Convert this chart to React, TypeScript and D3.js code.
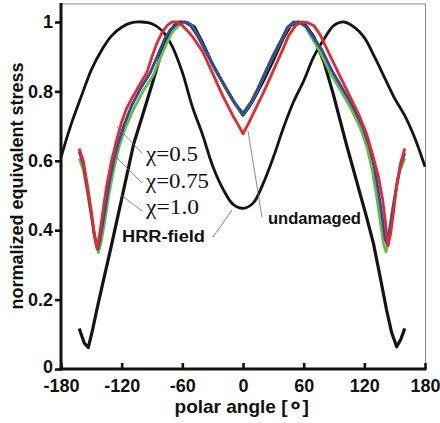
import React, { useRef, useEffect } from "react";
import * as d3 from "d3";

// polar angle [deg] / normalized equivalent stress
const hrrAngles = [-180, -170, -160, -150, -140, -130, -120, -110, -100, -90, -80, -70, -60, -50, -40, -30, -20, -10, 0,
  10, 20, 30, 40, 50, 60, 70, 80, 90, 100, 110, 120, 130, 140, 150, 160, 170, 180];
const hrrValues = [0.61, 0.705, 0.785, 0.862, 0.918, 0.96, 0.985, 0.998, 1.0, 0.995, 0.975, 0.93, 0.855, 0.755, 0.675, 0.585, 0.52, 0.475, 0.463,
  0.478, 0.535, 0.61, 0.695, 0.77, 0.83, 0.9, 0.95, 0.99, 1.0, 0.985, 0.955, 0.9, 0.84, 0.78, 0.73, 0.665, 0.583];

const undamaged: [number, number][] = [
  [-162, 0.117], [-157, 0.075], [-153, 0.062], [-149, 0.11], [-145, 0.165], [-140, 0.23], [-131, 0.345],
  [-120, 0.49], [-108, 0.65], [-100, 0.725], [-90, 0.82], [-82, 0.9], [-75, 0.955], [-68, 0.99], [-62, 1.0],
  [-55, 0.998], [-48, 0.985], [-40, 0.94], [-30, 0.877], [-20, 0.825], [-10, 0.775], [-5, 0.753], [0, 0.732],
  [5, 0.752], [10, 0.775], [20, 0.83], [30, 0.89], [40, 0.955], [47, 0.99], [55, 1.0], [62, 0.99], [70, 0.958],
  [80, 0.885], [89, 0.795], [102, 0.65], [112, 0.545], [122, 0.44], [129, 0.362], [136, 0.26], [142, 0.17],
  [147, 0.105], [152, 0.064], [156, 0.085], [160, 0.117],
];

const chi05: [number, number][] = [
  [-162, 0.636], [-158, 0.6], [-154, 0.53], [-150, 0.455], [-147, 0.39], [-144.5, 0.348], [-142, 0.385],
  [-139, 0.445], [-135, 0.525], [-130, 0.6], [-125, 0.66], [-120, 0.712], [-115, 0.752], [-110, 0.78],
  [-100, 0.83], [-95, 0.855], [-90, 0.9], [-85, 0.94], [-80, 0.97], [-75, 0.99], [-70, 1.0], [-65, 1.0],
  [-60, 0.99], [-55, 0.975], [-50, 0.958], [-40, 0.915], [-30, 0.852], [-20, 0.787], [-10, 0.73], [-5, 0.705],
  [0, 0.678], [5, 0.705], [10, 0.735], [20, 0.795], [30, 0.86], [40, 0.925], [45, 0.96], [52, 0.99], [58, 1.0],
  [64, 0.998], [70, 0.99], [76, 0.965], [85, 0.91], [96, 0.843], [105, 0.79], [115, 0.73], [122, 0.68],
  [128, 0.62], [134, 0.554], [138, 0.49], [141, 0.42], [143.5, 0.355], [146, 0.39], [149, 0.455], [152, 0.53],
  [156, 0.595], [160, 0.636],
];

const chi075: [number, number][] = [
  [-162, 0.627], [-158, 0.59], [-154, 0.52], [-150, 0.445], [-147, 0.385], [-143.5, 0.345], [-140.5, 0.39],
  [-137, 0.45], [-133, 0.525], [-128, 0.6], [-123, 0.655], [-118, 0.7], [-110, 0.76], [-100, 0.815],
  [-92, 0.852], [-85, 0.9], [-78, 0.948], [-72, 0.978], [-65, 0.995], [-58, 1.0], [-52, 0.99], [-45, 0.96],
  [-35, 0.905], [-25, 0.852], [-15, 0.8], [-8, 0.765], [0, 0.737], [8, 0.77], [15, 0.81], [23, 0.862],
  [30, 0.905], [38, 0.95], [44, 0.985], [50, 1.0], [57, 0.998], [63, 0.985], [70, 0.955], [78, 0.92],
  [88, 0.86], [98, 0.81], [108, 0.76], [118, 0.7], [125, 0.64], [130, 0.58], [134, 0.51], [138, 0.43],
  [140.5, 0.375], [142.5, 0.36], [145, 0.4], [148, 0.46], [152, 0.53], [156, 0.59], [160, 0.622],
];

const chi10: [number, number][] = [
  [-162, 0.607], [-158, 0.575], [-154, 0.51], [-150, 0.44], [-147, 0.38], [-143, 0.335], [-140, 0.37],
  [-136.5, 0.43], [-132.5, 0.505], [-127.5, 0.58], [-122.5, 0.64], [-117, 0.69], [-108, 0.75], [-98, 0.805],
  [-89, 0.845], [-82, 0.895], [-75, 0.942], [-69, 0.975], [-62, 0.993], [-57, 1.0], [-51, 0.99], [-45, 0.962],
  [-35, 0.905], [-25, 0.852], [-15, 0.8], [-8, 0.765], [0, 0.735], [8, 0.768], [15, 0.808], [23, 0.86],
  [30, 0.903], [38, 0.948], [44, 0.983], [50, 0.998], [56, 0.997], [62, 0.985], [68, 0.955], [76, 0.915],
  [86, 0.855], [96, 0.805], [106, 0.755], [116, 0.695], [123, 0.635], [128, 0.57], [132, 0.5], [136, 0.42],
  [139, 0.36], [141.5, 0.338], [144, 0.38], [147, 0.44], [151, 0.51], [155, 0.57], [160, 0.607],
];

const xTicks = [-180, -120, -60, 0, 60, 120, 180];
const yTicks = [0, 0.2, 0.4, 0.6, 0.8, 1];

const sans = "Arial, 'Liberation Sans', Helvetica, sans-serif";
const serif = "'Liberation Serif', 'DejaVu Serif', serif";

export default function App() {
  const svgRef = useRef<SVGSVGElement>(null);

  useEffect(() => {
    const svg = d3.select(svgRef.current);
    svg.selectAll("*").remove();

    const x = d3.scaleLinear().domain([-180, 180]).range([61, 425]);
    const y = d3.scaleLinear().domain([0, 1]).range([369, 22]);
    const top = y(1.052);

    // thin frame on top and right
    svg.append("line").attr("x1", 61).attr("x2", 425.5).attr("y1", top).attr("y2", top)
      .attr("stroke", "#8a8a8a").attr("stroke-width", 1);
    svg.append("line").attr("x1", 425.5).attr("x2", 425.5).attr("y1", top).attr("y2", 369)
      .attr("stroke", "#8a8a8a").attr("stroke-width", 1);

    const line = d3.line<[number, number]>().x(d => x(d[0])).y(d => y(d[1]));
    const hrr: [number, number][] = hrrAngles.map((a, i) => [a, hrrValues[i]]);

    svg.append("path").attr("d", line.curve(d3.curveCatmullRom)(hrr)!)
      .attr("fill", "none").attr("stroke", "#141414").attr("stroke-width", 2.8);
    line.curve(d3.curveLinear);
    svg.append("path").attr("d", line(undamaged)!)
      .attr("fill", "none").attr("stroke", "#141414").attr("stroke-width", 3.2).attr("stroke-linejoin", "round");

    const series: [[number, number][], string][] = [
      [chi10, "#62c03a"],
      [chi075, "#2f48a6"],
      [chi05, "#e8282c"],
    ];
    series.forEach(([d, c]) => {
      svg.append("path").attr("d", line(d)!)
        .attr("fill", "none").attr("stroke", c).attr("stroke-width", 2.8).attr("stroke-linejoin", "round");
    });

    // axes
    const gx = svg.append("g").attr("transform", "translate(0,369)")
      .call(d3.axisBottom(x).tickValues(xTicks).tickSizeInner(-6).tickSizeOuter(0).tickPadding(10)
        .tickFormat(d => String(d)));
    const gy = svg.append("g").attr("transform", "translate(61,0)")
      .call(d3.axisLeft(y).tickValues(yTicks).tickSizeInner(6).tickSizeOuter(0).tickPadding(2)
        .tickFormat(d => (d === 0 ? "0" : d === 1 ? "1" : String(d))));
    [gx, gy].forEach(g => {
      g.select(".domain").remove();
      g.selectAll(".tick line").attr("stroke", "#111").attr("stroke-width", 2.6);
      g.selectAll(".tick text").attr("fill", "#111").style("font-family", sans)
        .style("font-size", "18px").style("font-weight", "bold");
    });
    // lift the "0" a little so it clears "-180"
    gy.selectAll<SVGTextElement, number>(".tick text").filter(d => d === 0).attr("dy", "0.2em");

    svg.append("line").attr("x1", 61).attr("x2", 61).attr("y1", top - 1).attr("y2", 370.5)
      .attr("stroke", "#111").attr("stroke-width", 3);
    svg.append("line").attr("x1", 59.5).attr("x2", 426.5).attr("y1", 369).attr("y2", 369)
      .attr("stroke", "#111").attr("stroke-width", 3);

    // leader lines
    const leaders = [
      [117, 127, 142, 153],
      [112, 153, 142, 183],
      [121, 195, 142, 211],
      [213, 237, 232, 210],
      [248, 131, 262, 217],
    ];
    leaders.forEach(([x1, y1, x2, y2]) => {
      svg.append("line").attr("x1", x1).attr("y1", y1).attr("x2", x2).attr("y2", y2)
        .attr("stroke", "#6a6a6a").attr("stroke-width", 0.8);
    });

    const chiLabels: [string, number, number][] = [
      ["χ=0.5", 161, 52],
      ["χ=0.75", 188, 63],
      ["χ=1.0", 214, 53],
    ];
    chiLabels.forEach(([t, by, w]) => {
      svg.append("text").attr("x", 146).attr("y", by).text(t)
        .attr("textLength", w).attr("lengthAdjust", "spacingAndGlyphs")
        .style("font-family", serif).style("font-size", "20px").attr("fill", "#111");
    });

    svg.append("text").attr("x", 122).attr("y", 241.5).text("HRR-field")
      .attr("textLength", 83).attr("lengthAdjust", "spacingAndGlyphs")
      .style("font-family", sans).style("font-size", "16px").style("font-weight", "bold").attr("fill", "#111");
    svg.append("text").attr("x", 268).attr("y", 223.5).text("undamaged")
      .attr("textLength", 93).attr("lengthAdjust", "spacingAndGlyphs")
      .style("font-family", sans).style("font-size", "16px").style("font-weight", "bold").attr("fill", "#111");

    const xl = svg.append("text").attr("x", 241.7).attr("y", 413).attr("text-anchor", "middle")
      .style("font-family", sans).style("font-size", "19px").style("font-weight", "bold").attr("fill", "#111");
    xl.append("tspan").text("polar angle [");
    xl.append("tspan").text("∘").style("font-size", "24px");
    xl.append("tspan").text("]");
    svg.append("text").attr("transform", "translate(23,186) rotate(-90)").attr("text-anchor", "middle")
      .text("normalized equivalent stress")
      .style("font-family", sans).style("font-size", "18px").style("font-weight", "bold").attr("fill", "#111");
  }, []);

  return (
    <svg ref={svgRef} width={440} height={423}
      style={{ position: "absolute", left: 0, top: 0, background: "#fff" }} />
  );
}
